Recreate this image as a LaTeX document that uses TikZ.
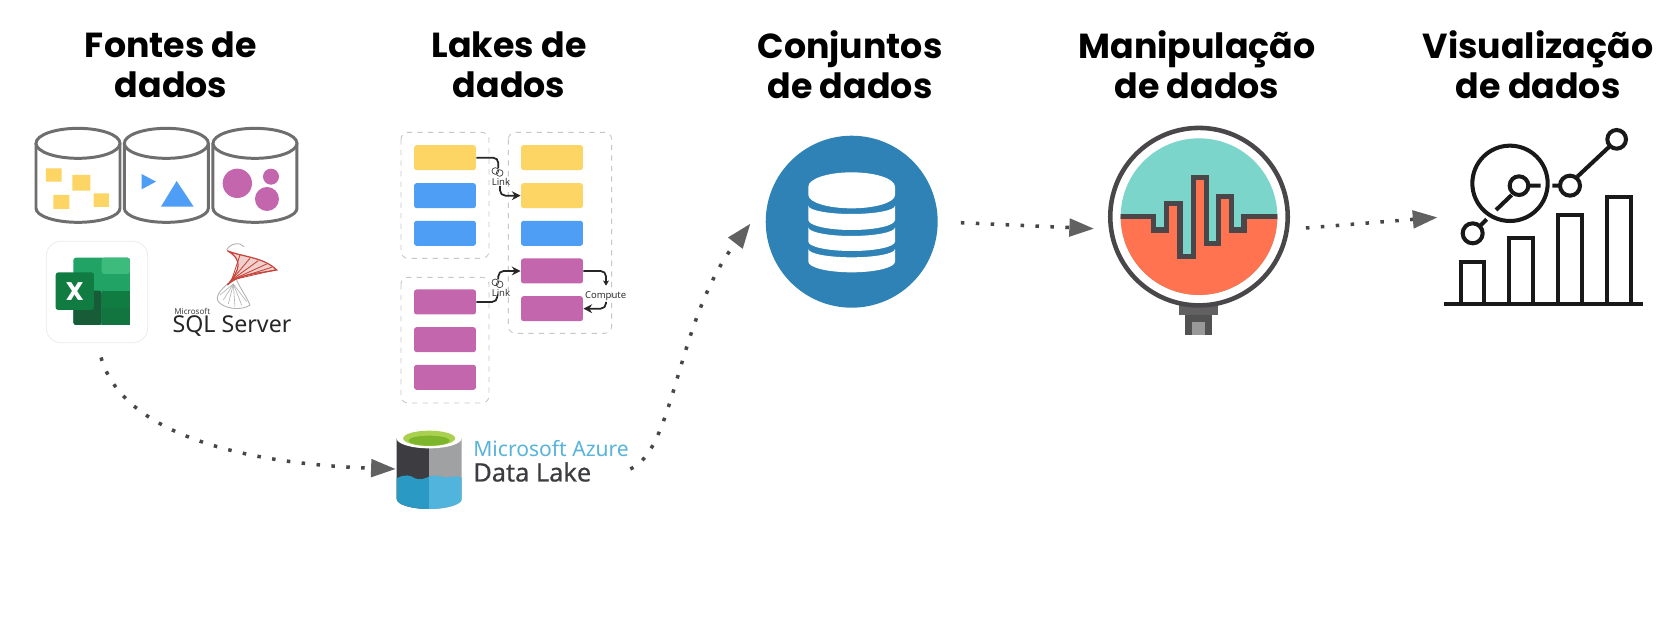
\documentclass[tikz,border=0pt]{standalone}
\usepackage{fontspec}
\setmainfont{Noto Sans}
\newfontfamily\headfont{Poppins}
\usetikzlibrary{arrows.meta,calc}
\definecolor{yelbox}{HTML}{FDD565}
\definecolor{blubox}{HTML}{4F9EF5}
\definecolor{pinbox}{HTML}{C466AD}
\definecolor{cylgray}{HTML}{6E6E6E}
\definecolor{dsblue}{HTML}{2E82B5}
\definecolor{teal1}{HTML}{7BD5CA}
\definecolor{orng1}{HTML}{FF7350}
\definecolor{lensink}{HTML}{4A474B}
\definecolor{xl1}{HTML}{3DBB7C}
\definecolor{xl2}{HTML}{21A366}
\definecolor{xl3}{HTML}{107C41}
\definecolor{xl4}{HTML}{185C37}
\definecolor{azdark}{HTML}{3C3C41}
\definecolor{azgray}{HTML}{A0A1A2}
\definecolor{azleft}{HTML}{2A9AC5}
\definecolor{azright}{HTML}{50B4DC}
\definecolor{aztext}{HTML}{59B4D9}
\definecolor{azlime}{HTML}{A9D14F}
\definecolor{azlime2}{HTML}{7DB52C}
\definecolor{sqlred}{HTML}{C8453C}
\tikzset{
  zoomed/.style={x=0.0066667cm,y=-0.0066667cm},
  heading/.style={font=\headfont\bfseries\fontsize{19.8}{23}\selectfont,align=center},
  cylline/.style={draw=cylgray,line width=1.7pt,fill=white},
  dropbox/.style={draw=black!22,dashed,line width=0.5pt,rounded corners=4pt},
  lakerect/.style={minimum width=1.24cm,minimum height=0.5cm,rounded corners=1.5pt,inner sep=0pt},
  linkline/.style={line width=1pt,black!85,rounded corners=3pt},
  linktext/.style={font=\fontsize{5.4}{6}\selectfont,inner sep=0pt,text=black!80},
  hidden/.style={inner sep=0pt,minimum width=#1},
  dotarrow/.style={draw=black!72,line width=2pt,dash pattern=on 2pt off 6.5pt,
    -{Triangle[length=14pt,width=10pt,color=black!62]}},
  chartline/.style={line width=2.3pt,black!90},
}
\begin{document}
\begin{tikzpicture}[x=0.02cm,y=-0.02cm]
\useasboundingbox[fill=white] (0,0) rectangle (1673,624);

% === HEADINGS ===
\node[heading] (hFontes) at (171,65) {Fontes de\\dados};
\node[heading] (hLakes) at (509,65) {Lakes de\\dados};
\node[heading] (hConj) at (850,65) {Conjuntos\\de dados};
\node[heading] (hManip) at (1197,65) {Manipulação\\de dados};
\node[heading] (hVis) at (1538,65) {Visualização\\de dados};

% === LEFT: three source cylinders ===
\begin{scope}[shift={(20,110)},zoomed]
\foreach \cx in {174,439,705} {
  \draw[cylline] (\cx-126,100) -- (\cx-126,295) arc[start angle=180,end angle=0,x radius=126,y radius=42] -- (\cx+126,100);
  \draw[cylline] (\cx,100) ellipse[x radius=126,y radius=45];
}
\fill[yelbox] (78,175) rectangle (125,215) (157,195) rectangle (211,242) (100,255) rectangle (148,297) (221,250) rectangle (267,291);
\fill[blubox] (365,192) -- (365,238) -- (408,215) -- cycle;
\fill[blubox] (423,290) -- (521,290) -- (470,213) -- cycle;
\fill[pinbox] (652,220) circle (44) (753,200) circle (24) (741,267) circle (36);
\end{scope}

% Excel tile
\node[draw=black!8,fill=white,rounded corners=8.5pt,minimum size=2.03cm,inner sep=0pt] (excel) at (97,292) {};
\begin{scope}[shift={(20,110)},zoomed]
\fill[xl2,rounded corners=1.5pt] (160,443) rectangle (330,645);
\fill[xl1,rounded corners=1.5pt] (245,443) rectangle (330,492);
\fill[xl3] (245,542) rectangle (330,595);
\fill[xl4,rounded corners=1.5pt] (160,542) rectangle (245,645);
\fill[xl3!75!xl4] (245,595) rectangle (330,645);
\fill[xl3,rounded corners=1.5pt] (107,487) rectangle (222,600);
\node[white,font=\headfont\bfseries\fontsize{14.5}{15}\selectfont,inner sep=0pt] (excelX) at (164,544) {X};

% SQL Server swirl
\draw[black!30,line width=0.5pt] (620,420) .. controls (630,400) and (660,395) .. (672,410);
\draw[black!30,line width=0.5pt] (625,520) .. controls (600,540) and (580,565) .. (600,580) .. controls (625,600) and (670,600) .. (690,585) .. controls (680,560) and (660,535) .. (650,510);
\foreach \ex/\ey in {600/555,610/570,625/582,645/590,665/585,680/575} \draw[black!30,line width=0.35pt] (640,522) -- (\ex,\ey);
\draw[sqlred,line width=0.7pt,fill=sqlred!25] (622,422) .. controls (660,440) and (730,440) .. (770,480) .. controls (720,490) and (660,490) .. (622,525) .. controls (660,480) and (670,450) .. (622,422);
\foreach \ex/\ey in {660/435,690/445,715/452,740/462,755/472,765/480} \draw[sqlred,line width=0.5pt] (635,510) -- (\ex,\ey);
\end{scope}
\node[font=\fontsize{4.6}{5}\selectfont,inner sep=0pt,anchor=west,text=black!75] (sqlMs) at (174,311) {Microsoft};
\node[font=\fontsize{13.2}{14}\selectfont,inner sep=0pt,text=black!85] (sql) at (232,326) {SQL Server};

% === LAKES ===
\begin{scope}[shift={(390,120)},zoomed]
\draw[dropbox] (33,37) rectangle (297,415);
\draw[dropbox] (355,37) rectangle (665,640);
\draw[dropbox] (33,472) rectangle (297,849);
\node[lakerect,fill=yelbox] (lA) at (165,113) {};
\node[lakerect,fill=blubox] (lB) at (165,227) {};
\node[lakerect,fill=blubox] (lC) at (165,340) {};
\node[lakerect,fill=pinbox] (lD) at (165,546) {};
\node[lakerect,fill=pinbox] (lE) at (165,659) {};
\node[lakerect,fill=pinbox] (lF) at (165,772) {};
\node[lakerect,fill=yelbox] (rA) at (486,113) {};
\node[lakerect,fill=yelbox] (rB) at (486,227) {};
\node[lakerect,fill=blubox] (rC) at (486,340) {};
\node[lakerect,fill=pinbox] (rD) at (486,453) {};
\node[lakerect,fill=pinbox] (rE) at (486,566) {};
% link labels and their rings
\node[linktext] (linkA) at (333,187) {Link};
\node[linktext] (linkB) at (333,518) {Link};
\node[linktext] (compute) at (647,530) {Compute};
\coordinate (ringAtop) at (325,145);
\coordinate (ringAfoot) at (330,198);
\coordinate (ringBtop) at (325,478);
\coordinate (ringBfoot) at (322,532);
\coordinate (compTop) at (648,497);
\coordinate (compFoot) at (648,546);
\draw[linkline] (lA.east) -| (ringAtop);
\draw[linkline,-{Stealth[length=5pt,width=5pt]}] (ringAfoot) |- (rB.west);
\draw[linkline] (lD.east) -| (ringBfoot);
\draw[linkline,-{Stealth[length=5pt,width=5pt]}] (ringBtop) |- (rD.west);
\draw[linkline,-{Stealth[length=3pt,width=3.5pt]}] (rD.east) -| (compTop);
\draw[linkline,-{Stealth[length=5pt,width=5pt]}] (compFoot) |- (rE.east);
\foreach \ry in {153,487} {
  \draw[black!75,line width=0.4pt,fill=white] (316,\ry) circle (10) (329,\ry+6) circle (10);
}
\end{scope}

% === AZURE DATA LAKE ===
\begin{scope}[shift={(380,410)},zoomed]
\fill[azdark] (50,85) -- (50,267) arc[start angle=180,end angle=90,x radius=97.5,y radius=30] -- (147.5,85) -- cycle;
\fill[azgray] (147.5,85) -- (147.5,297) arc[start angle=90,end angle=0,x radius=97.5,y radius=30] -- (245,85) -- cycle;
\fill[white] (147.5,85) ellipse[x radius=97.5,y radius=30];
\fill[azlime] (147.5,85) ellipse[x radius=78,y radius=23];
\fill[azlime2] (147.5,92) ellipse[x radius=62,y radius=15];
\fill[azleft] (50,205) .. controls (75,192) and (90,195) .. (105,205) .. controls (120,212) and (135,205) .. (147.5,200) -- (147.5,297) arc[start angle=90,end angle=180,x radius=97.5,y radius=30] -- cycle;
\fill[azright] (147.5,200) .. controls (170,190) and (190,205) .. (205,202) .. controls (220,198) and (235,198) .. (245,203) -- (245,267) arc[start angle=0,end angle=90,x radius=97.5,y radius=30] -- cycle;
\end{scope}
\node[hidden=4.68cm,minimum height=1.44cm] (azure) at (513,469) {};
\node[font=\fontsize{12}{14}\selectfont,inner sep=0pt,anchor=west,text=aztext] (azureA) at (473,449) {Microsoft Azure};
\node[font=\addfontfeature{FakeBold=0.6}\fontsize{14.4}{15}\selectfont,inner sep=0pt,anchor=west,text=azdark] (azureB) at (473,472) {Data Lake};

% === DATASET ===
\node[circle,fill=dsblue,minimum size=3.44cm,inner sep=0pt] (dataset) at (851.7,221.7) {};
\begin{scope}[shift={(750,140)},zoomed]
\fill[white] (175,140) arc[start angle=180,end angle=360,x radius=130,y radius=43] -- (435,165) arc[start angle=0,end angle=180,x radius=130,y radius=40] -- cycle;
\foreach \ya/\yb/\ra/\rb in {197/240/25/30,262/305/26/28,327/365/25/32} {
  \fill[white] (175,\ya) arc[start angle=180,end angle=0,x radius=130,y radius=\ra] -- (435,\yb) arc[start angle=0,end angle=180,x radius=130,y radius=\rb] -- cycle;
}
\end{scope}

% === MAGNIFIER ===
\begin{scope}[shift={(1090,120)},zoomed]
\fill[black!62] (268,555) rectangle (385,585);
\fill[black!68] (285,585) rectangle (365,645);
\fill[black!40] (305,605) rectangle (345,645);
\node[circle,draw=lensink,line width=2.6pt,fill=white,minimum size=3.55cm,inner sep=0pt] (manip) at (327,290) {};
\begin{scope}
\clip (327,290) circle (235);
\fill[teal1] (90,50) rectangle (565,530);
\fill[orng1] (90,290) -- (190,290) -- (190,330) -- (230,330) -- (230,250) -- (270,250) -- (270,410) -- (310,410) -- (310,172) -- (350,172) -- (350,370) -- (385,370) -- (385,230) -- (425,230) -- (425,330) -- (462,330) -- (462,290) -- (565,290) -- (565,530) -- (90,530) -- cycle;
\draw[lensink,line width=3pt] (90,290) -- (190,290) -- (190,330) -- (230,330) -- (230,250) -- (270,250) -- (270,410) -- (310,410) -- (310,172) -- (350,172) -- (350,370) -- (385,370) -- (385,230) -- (425,230) -- (425,330) -- (462,330) -- (462,290) -- (565,290);
\end{scope}
\end{scope}

% === CHART ===
\node[hidden=4cm,minimum height=3.5cm] (chart) at (1543,217) {};
\begin{scope}[shift={(1420,120)},zoomed]
\draw[chartline] (72,553) -- (668,553);
\draw[chartline] (122,553) |- (193,425) -- (193,553);
\draw[chartline] (268,553) |- (340,354) -- (340,553);
\draw[chartline] (415,553) |- (486,284) -- (486,553);
\draw[chartline] (562,553) |- (633,230) -- (633,553);
\draw[chartline] (270,190) circle (113);
\draw[chartline] (297,197) circle (28) (450,197) circle (30) (590,58) circle (28) (158,340) circle (30);
\draw[chartline] (325,197) -- (362,197) (397,197) -- (420,197) (472,170) -- (568,80) (275,225) -- (228,270) (200,298) -- (178,320);
\end{scope}

% === FLOW ARROWS ===
\draw[dotarrow,shorten <=8.5pt] (excel.south) .. controls (120,425) and (220,463) .. (azure.west);
\draw[dotarrow] (azure.east) .. controls (675,450) and (676,320) .. ($(dataset.west)+(-15,2)$);
\draw[dotarrow,shorten <=13pt,shorten >=8.5pt] (dataset.east) -- (manip.188);
\draw[dotarrow,shorten <=9.6pt,shorten >=3pt] (manip.352) -- (chart.west);

\end{tikzpicture}
\end{document}
